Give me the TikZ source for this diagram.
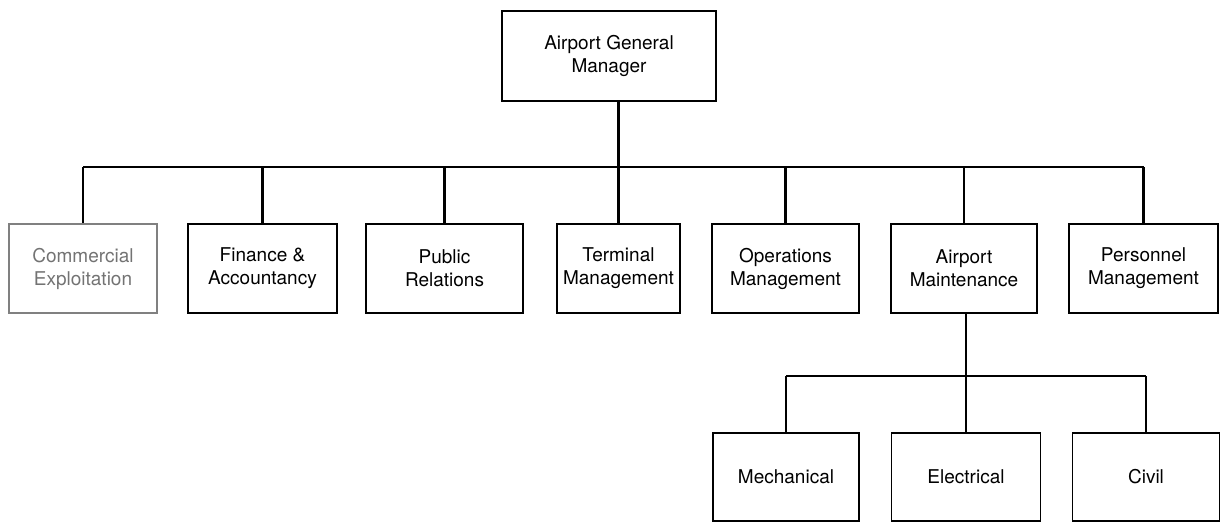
\documentclass[tikz,border=0pt]{standalone}
\usepackage{fontspec}
\setmainfont{TeX Gyre Heros}
\usetikzlibrary{positioning}
\tikzset{
unit/.style={draw=black, line width=1.5pt, align=center, inner sep=0pt, minimum height=89pt, font=\fontsize{19}{23}\selectfont}, % every box of the chart
faded/.style={unit, draw=black!50, text=black!55}, % the pale box on the left
link/.style={line width=2.3pt}, % the connecting lines
}

\begin{document}
\begin{tikzpicture}[x=1pt,y=-1pt]
      \useasboundingbox (0,0) rectangle (1221,522);
      \node[unit, minimum width=214pt, minimum height=90pt] (gm) at (609,56) {Airport General\\Manager};

      \node[faded, minimum width=148pt] (ce) at (83,268.5) {Commercial\\Exploitation};
      \node[unit, minimum width=149pt] (fa) at (262.5,268.5) {Finance \&\\Accountancy};
      \node[unit, minimum width=157pt] (pr) at (444.5,268.5) {Public\\Relations};
      \node[unit, minimum width=123pt] (tm) at (618.5,268.5) {Terminal\\Management};
      \node[unit, minimum width=147pt] (om) at (785.5,268.5) {Operations\\Management};
      \node[unit, minimum width=146pt] (am) at (964,268.5) {Airport\\Maintenance};
      \node[unit, minimum width=149pt] (pm) at (1143.5,268.5) {Personnel\\Management};

      \node[unit, minimum width=146pt, minimum height=88pt] (me) at (786,477) {Mechanical};
      \node[unit, minimum width=149pt, minimum height=88pt] (el) at (966,477) {Electrical};
      \node[unit, minimum width=147pt, minimum height=88pt] (ci) at (1146,477) {Civil};

      \coordinate (bus) at (0,167);
      \coordinate (sub) at (0,376);

      \draw[link] (gm.south -| tm) -- (bus -| tm)
      (bus -| ce) -- (bus -| pm);
      \foreach \n in {ce,fa,pr,tm,om,am,pm}
        \draw[link] (bus -| \n) -- (\n);

      \draw[link] (am.south -| el) -- (sub -| el)
      (sub -| me) -- (sub -| ci);
      \foreach \n in {me,el,ci}
        \draw[link] (sub -| \n) -- (\n);
    \end{tikzpicture}
\end{document}
